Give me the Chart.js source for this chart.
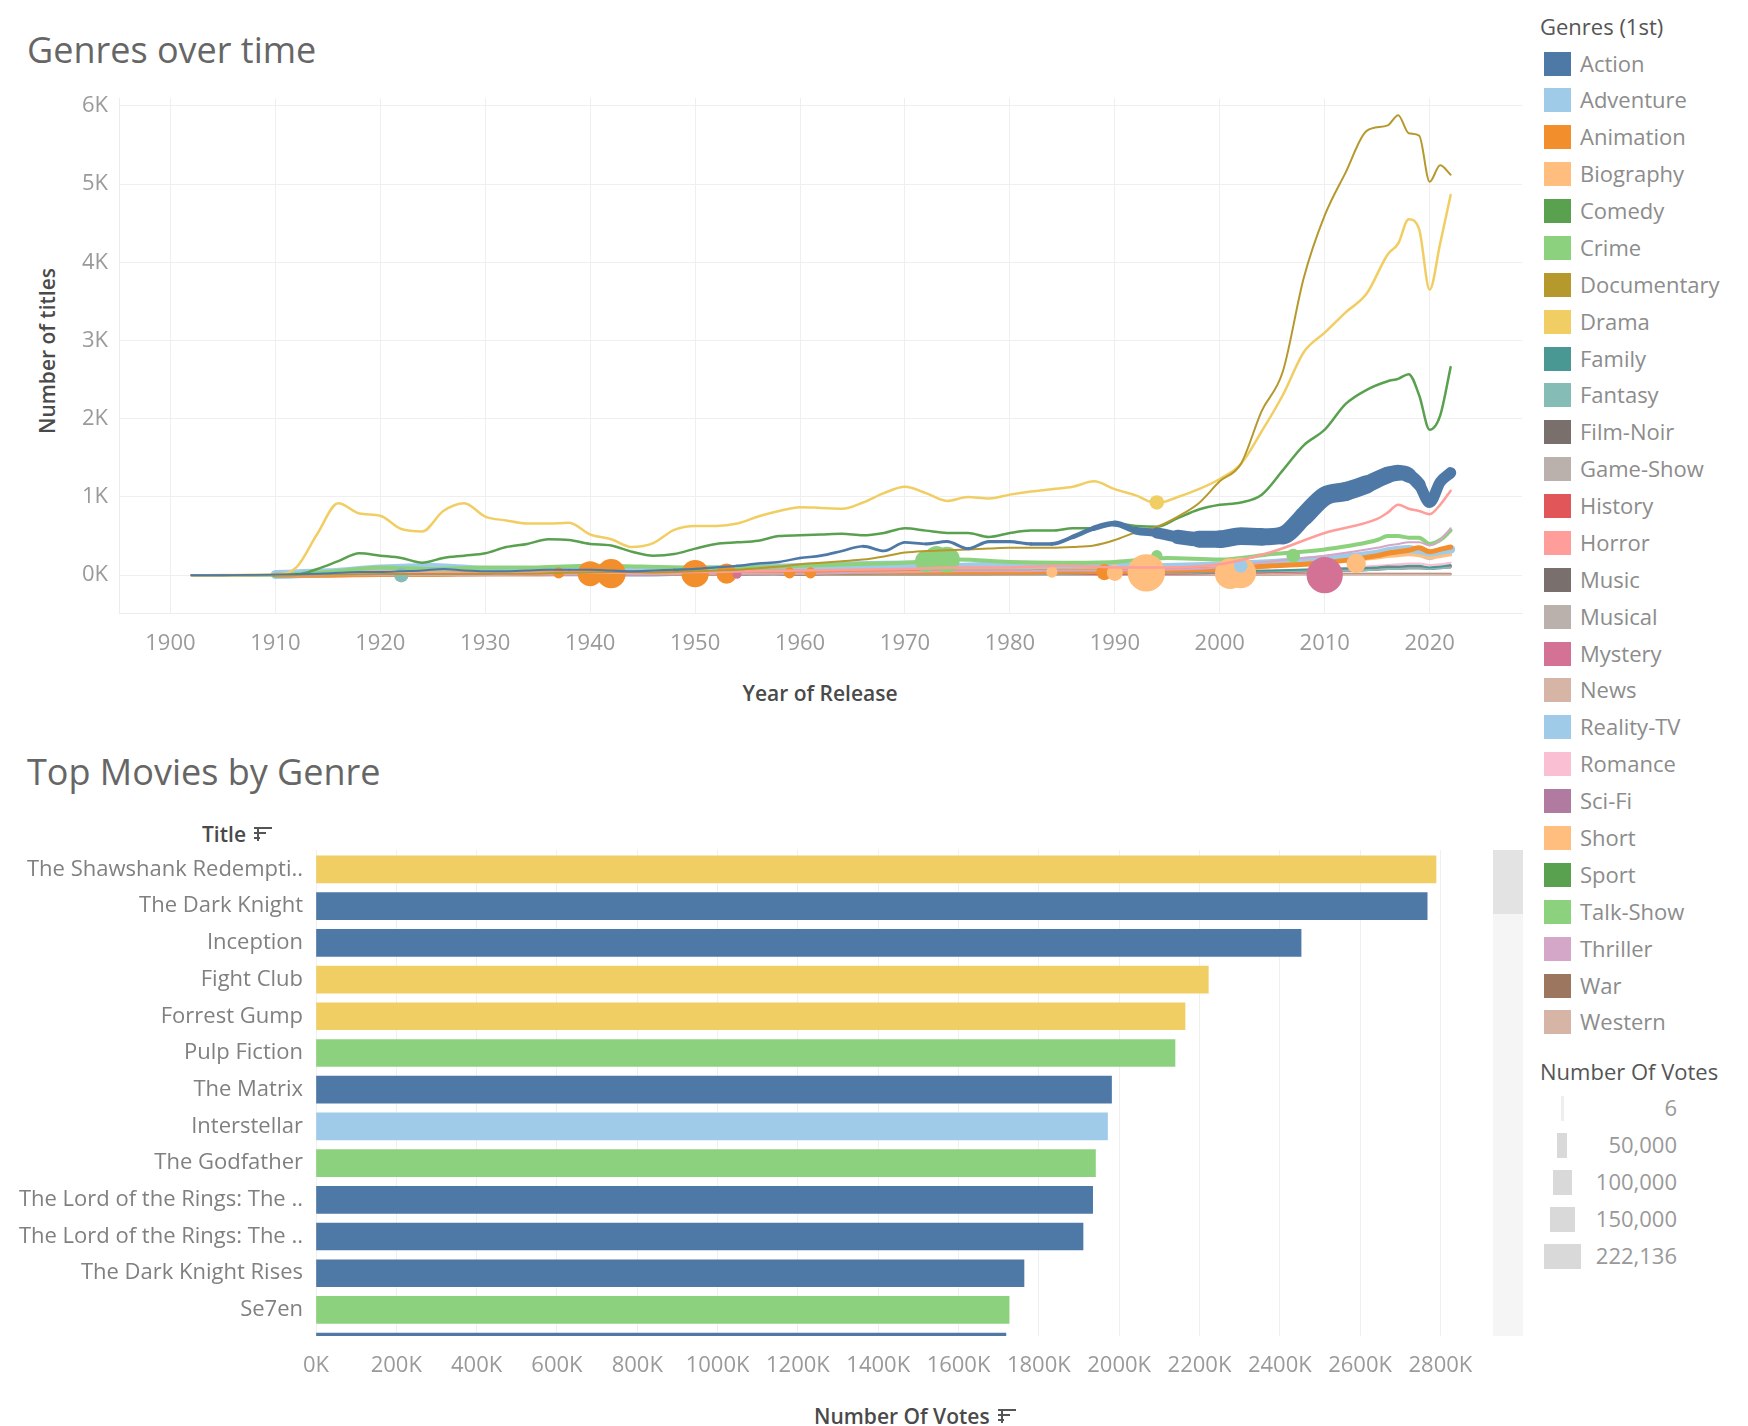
<!DOCTYPE html>
<html>
<head>
<meta charset="utf-8">
<script src="https://cdn.jsdelivr.net/npm/chart.js@4.4.1/dist/chart.umd.min.js"></script>
<style>
  html, body { margin: 0; padding: 0; background: #fff; }
  body { width: 1748px; height: 1426px; position: relative; overflow: hidden; font-family: "Open Sans", sans-serif; }
  .abs { position: absolute; white-space: nowrap; }
  .title { font-size: 36px; line-height: 44px; color: #666; }
  .axis-title { font-size: 21px; line-height: 28px; color: #4a4a4a; font-weight: 600; }
  .leg-title { font-size: 22px; line-height: 28px; color: #555; }
  .leg-item { font-size: 22px; line-height: 24px; color: #8c8c8c; }
  .swatch { position: absolute; width: 27px; height: 24px; }
  .size-mark { position: absolute; height: 25px; background: #d9d9d9; }
  .sort { display: inline-block; position: relative; width: 18px; height: 14px; margin-left: 8px; vertical-align: 1px; }
  .sort i { position: absolute; left: 0; height: 2px; background: #555; }
  canvas { position: absolute; }
</style>
</head>
<body>

<div class="abs title" style="left:27px; top:28px;">Genres over time</div>
<div class="abs title" style="left:27px; top:750px;">Top Movies by Genre</div>

<div class="abs axis-title" style="left:820px; top:693px; transform:translate(-50%,-50%);">Year of Release</div>
<div class="abs axis-title" style="left:47px; top:351px; transform:translate(-50%,-50%) rotate(-90deg);">Number of titles</div>

<div class="abs axis-title" style="left:202px; top:820px;">Title<span class="sort"><i style="width:18px;top:0"></i><i style="width:12px;top:5px"></i><i style="width:6px;top:10px"></i><i style="width:2px;height:14px;top:0;left:3px"></i></span></div>
<div class="abs axis-title" style="left:814px; top:1402px;">Number Of Votes<span class="sort"><i style="width:18px;top:0"></i><i style="width:12px;top:5px"></i><i style="width:6px;top:10px"></i><i style="width:2px;height:14px;top:0;left:3px"></i></span></div>

<!-- scrollbar of the bar pane -->
<div class="abs" style="left:1493px; top:850px; width:30px; height:486px; background:#f5f5f5;"></div>
<div class="abs" style="left:1493px; top:850px; width:30px; height:64px; background:#e3e3e3;"></div>

<div id="legend"></div>

<canvas id="lines" width="1530" height="700" style="left:0; top:0;"></canvas>
<canvas id="bars" width="1490" height="582" style="left:0; top:818px;"></canvas>

<script>
// ---- legend: genres and their colours ----
const genres = ["Action", "Adventure", "Animation", "Biography", "Comedy", "Crime", "Documentary", "Drama",
  "Family", "Fantasy", "Film-Noir", "Game-Show", "History", "Horror", "Music", "Musical", "Mystery", "News",
  "Reality-TV", "Romance", "Sci-Fi", "Short", "Sport", "Talk-Show", "Thriller", "War", "Western"]
const genreColors = ["#4E79A7", "#A0CBE8", "#F28E2B", "#FFBE7D", "#59A14F", "#8CD17D", "#B6992D", "#F1CE63",
  "#499894", "#86BCB6", "#79706E", "#BAB0AC", "#E15759", "#FF9D9A", "#79706E", "#BAB0AC", "#D37295", "#D7B5A6",
  "#A0CBE8", "#FABFD2", "#B07AA1", "#FFBE7D", "#59A14F", "#8CD17D", "#D4A6C8", "#9D7660", "#D7B5A6"]

const sizeLegendLabels = ["6", "50,000", "100,000", "150,000", "222,136"]

// ---- line chart: number of titles per year ----
const years = [1902, 1905, 1908, 1910, 1912, 1914, 1916, 1918, 1920, 1922, 1924, 1926, 1928, 1930, 1932, 1934,
  1936, 1938, 1940, 1942, 1944, 1946, 1948, 1950, 1952, 1954, 1956, 1958, 1960, 1962, 1964, 1966, 1968, 1970,
  1972, 1974, 1976, 1978, 1980, 1982, 1984, 1986, 1988, 1990, 1992, 1994, 1996, 1998, 2000, 2002, 2004, 2006,
  2008, 2010, 2012, 2014, 2016, 2017, 2018, 2019, 2020, 2021, 2022]

const drama = [0, 2, 5, 10, 100, 530, 920, 790, 760, 590, 560, 820, 920, 750, 700, 660,
  660, 670, 520, 460, 360, 410, 580, 630, 630, 660, 750, 820, 870, 860, 850, 930, 1050, 1130,
  1050, 950, 1000, 980, 1030, 1070, 1100, 1130, 1200, 1100, 1020, 920, 1000, 1100, 1230, 1420, 1840, 2300,
  2850, 3100, 3360, 3600, 4100, 4240, 4550, 4420, 3650, 4240, 4860]

const documentary = [0, 0, 0, 2, 5, 8, 10, 12, 15, 15, 15, 15, 15, 15, 20, 20,
  25, 30, 35, 40, 40, 35, 40, 50, 60, 70, 90, 110, 140, 160, 180, 200, 240, 290,
  310, 320, 330, 340, 350, 350, 350, 360, 380, 450, 550, 620, 750, 920, 1200, 1420, 2100, 2600,
  3800, 4600, 5150, 5680, 5750, 5880, 5650, 5620, 5030, 5240, 5120]

const comedy = [0, 0, 0, 0, 5, 80, 180, 280, 250, 220, 160, 220, 250, 280, 360, 400,
  460, 450, 400, 380, 300, 250, 270, 340, 400, 420, 440, 500, 510, 520, 530, 510, 540, 600,
  570, 540, 540, 490, 540, 570, 570, 600, 600, 660, 630, 620, 730, 840, 900, 930, 1030, 1340,
  1660, 1860, 2190, 2370, 2480, 2510, 2570, 2300, 1860, 2040, 2660]

const action = [0, 0, 5, 10, 15, 20, 30, 40, 40, 50, 60, 80, 60, 50, 50, 60,
  70, 70, 70, 60, 50, 60, 70, 80, 100, 120, 150, 170, 220, 250, 310, 370, 310, 420,
  400, 430, 340, 430, 430, 400, 400, 490, 600, 660, 570, 540, 490, 460, 460, 500, 490, 510,
  750, 1010, 1070, 1160, 1280, 1310, 1280, 1160, 930, 1190, 1310]

// votes (thousands) behind the action line, shown as its thickness
const actionVotesK = [2, 2, 2, 2, 2, 3, 3, 3, 3, 3, 3, 3, 3, 3, 3, 3,
  3, 3, 4, 4, 4, 4, 4, 5, 5, 5, 6, 6, 6, 7, 7, 7, 8, 8,
  8, 9, 9, 10, 10, 10, 12, 14, 20, 25, 30, 40, 60, 80, 95, 100, 100, 95,
  105, 110, 110, 105, 95, 90, 85, 70, 60, 60, 60]

const yearsB = [1910, 1915, 1920, 1925, 1930, 1935, 1940, 1945, 1950, 1955, 1960, 1965, 1970, 1975, 1980,
  1985, 1990, 1995, 2000, 2005, 2010, 2015, 2016, 2017, 2018, 2019, 2020, 2021, 2022]

const horror = [0, 10, 20, 30, 20, 30, 30, 30, 40, 50, 60, 70, 80, 100, 100, 120, 100, 100, 140, 300, 540, 720, 800, 900, 850, 820, 780, 900, 1080]
const crime = [0, 40, 100, 80, 100, 100, 120, 110, 100, 100, 120, 140, 160, 200, 170, 160, 170, 220, 200, 270, 330, 450, 500, 500, 480, 480, 400, 450, 570]
const adventure = [10, 30, 80, 100, 60, 50, 50, 40, 60, 80, 100, 120, 130, 100, 120, 100, 100, 100, 120, 150, 200, 270, 300, 320, 330, 300, 250, 300, 330]
const animation = [0, 0, 10, 10, 20, 20, 30, 30, 30, 40, 40, 40, 40, 40, 40, 50, 50, 60, 80, 120, 160, 250, 280, 300, 320, 350, 300, 330, 360]
const biography = [0, 0, 10, 10, 10, 20, 20, 20, 20, 30, 30, 40, 40, 50, 50, 60, 70, 90, 100, 130, 170, 220, 240, 250, 260, 250, 220, 240, 260]
const thriller = [0, 0, 0, 0, 0, 10, 10, 10, 20, 20, 20, 30, 40, 50, 50, 60, 60, 70, 100, 180, 250, 350, 380, 400, 420, 420, 380, 450, 600]
const family = [0, 0, 10, 10, 10, 10, 10, 10, 20, 20, 20, 20, 30, 30, 30, 30, 40, 40, 50, 60, 80, 100, 110, 110, 120, 120, 100, 110, 130]
const fantasy = [0, 0, 10, 10, 10, 10, 10, 10, 10, 10, 20, 20, 20, 20, 20, 20, 30, 30, 40, 50, 60, 70, 80, 80, 90, 90, 80, 90, 100]
const history = [0, 0, 10, 10, 10, 10, 10, 10, 10, 10, 20, 20, 20, 20, 20, 20, 20, 30, 30, 40, 60, 80, 90, 90, 100, 100, 90, 100, 110]
const music = [0, 0, 0, 0, 10, 10, 10, 10, 10, 10, 10, 20, 20, 20, 20, 20, 30, 30, 40, 50, 70, 90, 100, 100, 110, 110, 80, 100, 120]
const mystery = [0, 0, 10, 10, 20, 20, 20, 20, 20, 20, 20, 20, 20, 20, 20, 20, 20, 20, 30, 40, 50, 70, 80, 80, 90, 90, 80, 90, 100]
const romance = [0, 0, 10, 20, 20, 20, 20, 20, 20, 20, 20, 30, 30, 30, 30, 30, 30, 40, 50, 60, 80, 120, 130, 140, 150, 150, 130, 140, 160]
const sciFi = [0, 0, 0, 0, 0, 0, 0, 0, 10, 20, 20, 20, 20, 20, 20, 20, 20, 20, 30, 40, 50, 70, 80, 80, 90, 90, 80, 100, 120]
const western = [0, 20, 60, 50, 40, 60, 50, 40, 50, 50, 30, 30, 20, 20, 10, 10, 10, 10, 10, 10, 10, 10, 10, 10, 10, 10, 10, 10, 10]
const war = [0, 0, 10, 10, 10, 10, 20, 30, 20, 20, 10, 10, 10, 10, 10, 10, 10, 10, 10, 10, 20, 20, 20, 20, 20, 20, 20, 20, 20]
const musical = [null, null, null, null, 30, 30, 20, 30, 20, 20, 10, 10, 10, 10, 10, 10, 10, 10, 10, 10, 10, 10, 10, 10, 10, 10, 10, 10, 10]
const filmNoir = [null, null, null, null, null, null, 20, 30, 30, 10, null, null, null, null, null, null, null, null, null, null, null, null, null, null, null, null, null, null, null]

// single years where one very popular title swells the line
const blobGenres = ["Animation", "Animation", "Animation", "Animation", "Animation", "Animation", "Animation", "Animation",
  "Mystery", "Mystery", "Fantasy", "Crime", "Crime", "Crime", "Crime", "Crime",
  "Biography", "Biography", "Biography", "Biography", "Biography", "Biography", "Drama", "Adventure"]
const blobYears = [1937, 1940, 1942, 1950, 1953, 1959, 1961, 1989,
  1954, 2010, 1922, 1972, 1973, 1974, 1994, 2007,
  1984, 1990, 1993, 2001, 2002, 2013, 1994, 2002]
const blobTitles = [30, 20, 20, 20, 20, 30, 30, 40,
  10, 0, 0, 180, 220, 200, 250, 250,
  40, 30, 30, 20, 30, 150, 930, 120]
const blobVotes = [60000, 145000, 170000, 160000, 115000, 60000, 60000, 90000,
  45000, 214000, 80000, 125000, 140000, 150000, 60000, 75000,
  60000, 90000, 222000, 180000, 180000, 110000, 80000, 75000]

// ---- bar chart: top movies ----
const movieTitles = ["The Shawshank Redempti..", "The Dark Knight", "Inception", "Fight Club", "Forrest Gump",
  "Pulp Fiction", "The Matrix", "Interstellar", "The Godfather", "The Lord of the Rings: The ..",
  "The Lord of the Rings: The ..", "The Dark Knight Rises", "Se7en", "The Lord of the Rings: The .."]
const movieVotes = [2789000, 2767000, 2453000, 2222000, 2164000, 2139000, 1981000, 1971000, 1941000,
  1934000, 1910000, 1763000, 1726000, 1718000]
const movieGenres = ["Drama", "Action", "Action", "Drama", "Drama", "Crime", "Action", "Adventure", "Crime",
  "Action", "Action", "Action", "Crime", "Action"]

const yTicks = [0, 1000, 2000, 3000, 4000, 5000, 6000]
const xTicks = [1900, 1910, 1920, 1930, 1940, 1950, 1960, 1970, 1980, 1990, 2000, 2010, 2020]
const voteTicks = [0, 200000, 400000, 600000, 800000, 1000000, 1200000, 1400000, 1600000, 1800000, 2000000,
  2200000, 2400000, 2600000, 2800000]

const colorOf = g => genreColors[genres.indexOf(g)]
const widthFromVotes = v => 1.5 + Math.min(v, 222136) / 222136 * 36

// legend html
const legend = document.getElementById("legend")
let html = '<div class="abs leg-title" style="left:1540px; top:12px;">Genres (1st)</div>'
genres.forEach((g, i) => {
  const cy = 63.5 + 36.88 * i
  html += `<div class="swatch" style="left:1544px; top:${cy - 12}px; background:${genreColors[i]}"></div>`
  html += `<div class="abs leg-item" style="left:1580px; top:${cy - 13}px;">${g}</div>`
})
html += '<div class="abs leg-title" style="left:1540px; top:1057px;">Number Of Votes</div>'
const sizeWidths = [3, 10, 19, 25, 37]
sizeLegendLabels.forEach((t, i) => {
  const cy = 1108 + 37 * i
  const w = sizeWidths[i]
  html += `<div class="size-mark" style="left:${1562 - w / 2}px; top:${cy - 12.5}px; width:${w}px; ${i === 0 ? "background:#eeeeee;" : ""}"></div>`
  html += `<div class="abs leg-item" style="right:${1748 - 1677}px; top:${cy - 13}px; color:#999;">${t}</div>`
})
legend.innerHTML = html

Chart.defaults.font.family = '"Open Sans", sans-serif'
Chart.defaults.animation = false

function lineSet(genre, xs, ys, width) {
  return {
    type: "line",
    label: genre,
    data: xs.map((x, i) => ({ x, y: ys[i] })),
    borderColor: colorOf(genre),
    borderWidth: width,
    pointRadius: 0,
    cubicInterpolationMode: "monotone",
    borderCapStyle: "round",
    borderJoinStyle: "round",
    spanGaps: false,
    fill: false
  }
}

const actionSet = lineSet("Action", years, action, 2)
actionSet.segment = { borderWidth: c => widthFromVotes(actionVotesK[c.p1DataIndex] * 1000) }

const blobSet = {
  type: "bubble",
  label: "blobs",
  data: blobYears.map((x, i) => ({ x, y: blobTitles[i], r: widthFromVotes(blobVotes[i]) / 2 })),
  backgroundColor: blobGenres.map(colorOf),
  borderWidth: 0
}

new Chart(document.getElementById("lines"), {
  type: "line",
  data: {
    datasets: [
      actionSet,
      lineSet("Documentary", years, documentary, 2),
      lineSet("Drama", years, drama, 2.5),
      lineSet("Comedy", years, comedy, 2.5),
      lineSet("Horror", yearsB, horror, 2.5),
      blobSet,
      lineSet("Thriller", yearsB, thriller, 2),
      lineSet("Crime", yearsB, crime, 4),
      lineSet("Animation", yearsB, animation, 5),
      lineSet("Biography", yearsB, biography, 3),
      lineSet("Family", yearsB, family, 2),
      lineSet("Fantasy", yearsB, fantasy, 2),
      lineSet("History", yearsB, history, 2),
      lineSet("Music", yearsB, music, 2),
      lineSet("Mystery", yearsB, mystery, 2),
      lineSet("Romance", yearsB, romance, 2),
      lineSet("Sci-Fi", yearsB, sciFi, 2),
      lineSet("Western", yearsB, western, 2),
      lineSet("War", yearsB, war, 2),
      lineSet("Musical", yearsB, musical, 2),
      lineSet("Film-Noir", yearsB, filmNoir, 2),
      lineSet("Adventure", yearsB, adventure, 9)
    ]
  },
  options: {
    responsive: false,
    layout: { autoPadding: false, padding: { top: 98, right: 8, left: 0, bottom: 0 } },
    plugins: { legend: { display: false }, tooltip: { enabled: false } },
    scales: {
      x: {
        type: "linear",
        min: 1895.1,
        max: 2028.8,
        afterBuildTicks: s => { s.ticks = xTicks.map(v => ({ value: v })) },
        afterFit: s => { s.height = 87 },
        grid: { color: "#efefef", drawTicks: false },
        border: { display: true, color: "#ececec" },
        ticks: { padding: 18, color: "#9a9a9a", font: { size: 22 }, callback: v => String(v), maxRotation: 0 }
      },
      y: {
        min: -483,
        max: 6100,
        afterBuildTicks: s => { s.ticks = yTicks.map(v => ({ value: v })) },
        afterFit: s => { s.width = 119 },
        grid: { color: "#efefef", drawTicks: false },
        border: { display: true, color: "#ececec" },
        ticks: { padding: 11, color: "#9a9a9a", font: { size: 22 }, callback: v => (v / 1000) + "K" }
      }
    }
  }
})

new Chart(document.getElementById("bars"), {
  type: "bar",
  data: {
    datasets: [{
      data: movieTitles.map((t, i) => ({ x: movieVotes[i], y: i })),
      backgroundColor: movieGenres.map(colorOf),
      barThickness: 27,
      borderWidth: 0
    }]
  },
  options: {
    responsive: false,
    indexAxis: "y",
    layout: { autoPadding: false, padding: { top: 32, right: 5, left: 0, bottom: 0 } },
    plugins: { legend: { display: false }, tooltip: { enabled: false } },
    scales: {
      x: {
        type: "linear",
        min: 0,
        max: 2911000,
        afterBuildTicks: s => { s.ticks = voteTicks.map(v => ({ value: v })) },
        afterFit: s => { s.height = 64 },
        grid: { color: "#f0f0f0", drawTicks: false },
        border: { display: false },
        ticks: { padding: 17, color: "#9a9a9a", font: { size: 22 }, maxRotation: 0, autoSkip: false, callback: v => (v / 1000) + "K" }
      },
      y: {
        type: "linear",
        reverse: true,
        offset: false,
        min: -0.53,
        max: 12.71,
        afterBuildTicks: s => { s.ticks = movieTitles.slice(0, 13).map((t, i) => ({ value: i })) },
        afterFit: s => { s.width = 316 },
        grid: { display: false, drawTicks: false },
        border: { display: false },
        ticks: { padding: 13, color: "#808080", font: { size: 22 }, autoSkip: false, callback: v => movieTitles[v] }
      }
    }
  }
})
</script>
</body>
</html>
